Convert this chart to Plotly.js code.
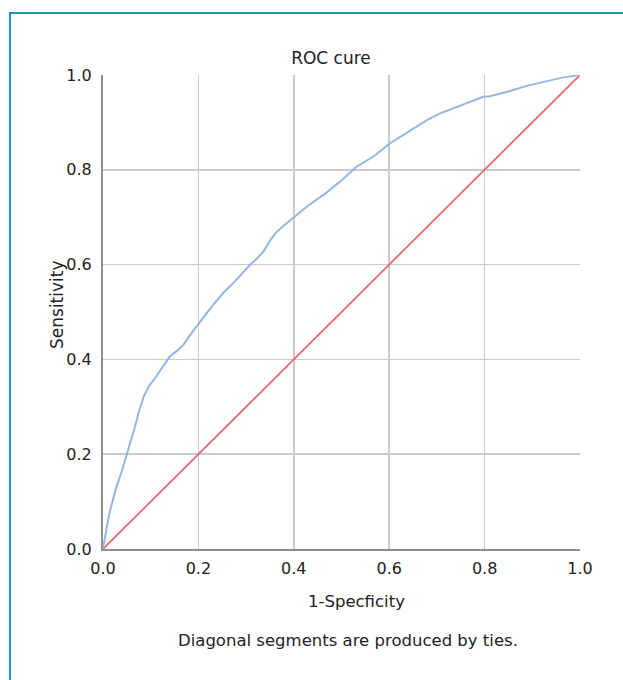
<!DOCTYPE html>
<html>
<head>
<meta charset="utf-8">
<script src="https://cdn.plot.ly/plotly-3.0.1.min.js"></script>
<style>
  html, body { margin: 0; padding: 0; background: #ffffff; overflow: hidden; }
  #wrap { position: relative; width: 623px; height: 680px; }
  #frame { position: absolute; left: 9px; top: 12px; width: 700px; height: 760px;
           border-left: 2px solid #1b97b9; border-top: 2px solid #1b97b9; pointer-events: none; z-index: 5; }
  #chart { position: absolute; left: 0; top: 0; width: 623px; height: 680px; }
</style>
</head>
<body>
<div id="wrap">
  <div id="chart"></div>
  <div id="frame"></div>
</div>
<script>
// ROC curve (1-Specificity vs Sensitivity)
var rocX = [0, 0.004, 0.008, 0.015, 0.022, 0.028, 0.039, 0.053, 0.060, 0.067, 0.076, 0.085, 0.096, 0.109, 0.124,
            0.140, 0.155, 0.168, 0.185, 0.203, 0.217, 0.231, 0.252, 0.273, 0.290, 0.308, 0.322, 0.336, 0.350, 0.362,
            0.380, 0.399, 0.427, 0.462, 0.497, 0.532, 0.567, 0.602, 0.637, 0.679, 0.707, 0.734, 0.769, 0.797, 0.811,
            0.846, 0.888, 0.930, 0.965, 1.0];
var rocY = [0, 0.026, 0.047, 0.082, 0.110, 0.130, 0.163, 0.209, 0.230, 0.258, 0.292, 0.321, 0.343, 0.360, 0.383,
            0.406, 0.418, 0.430, 0.455, 0.480, 0.497, 0.515, 0.540, 0.561, 0.580, 0.599, 0.612, 0.627, 0.650, 0.667,
            0.683, 0.698, 0.722, 0.747, 0.775, 0.807, 0.828, 0.856, 0.878, 0.905, 0.919, 0.930, 0.944, 0.954, 0.955,
            0.964, 0.977, 0.986, 0.995, 1.0];
// Reference (chance) line
var refX = [0, 1];
var refY = [0, 1];
// Ticks and texts
var tickVals = [0, 0.2, 0.4, 0.6, 0.8, 1.0];
var tickText = ['0.0', '0.2', '0.4', '0.6', '0.8', '1.0'];
var chartTitle = 'ROC cure';
var xTitle = '1-Specficity';
var yTitle = 'Sensitivity';
var footnote = 'Diagonal segments are produced by ties.';

var FONT = 'DejaVu Sans, Arial, sans-serif';
var TXT = '#222222';

var traces = [
  { x: refX, y: refY, type: 'scatter', mode: 'lines',
    line: { color: '#e8636d', width: 1.7 }, hoverinfo: 'skip', showlegend: false },
  { x: rocX, y: rocY, type: 'scatter', mode: 'lines',
    line: { color: '#93b6e2', width: 2 }, hoverinfo: 'skip', showlegend: false }
];

var axisCommon = {
  range: [0, 1], tickvals: tickVals, ticktext: tickText,
  showgrid: true, gridcolor: '#cbcbcb', gridwidth: 1.5,
  showline: true, linecolor: '#8f8f8f', linewidth: 2,
  zeroline: false, ticks: '', fixedrange: true,
  tickfont: { family: FONT, size: 16, color: TXT }
};

var layout = {
  width: 623, height: 680,
  margin: { l: 103, r: 43, t: 75, b: 131, pad: 0 },
  paper_bgcolor: '#ffffff', plot_bgcolor: '#ffffff',
  title: { text: chartTitle, font: { family: FONT, size: 17, color: TXT },
           x: 331 / 623, xanchor: 'center', xref: 'container',
           y: 1 - 58 / 680, yanchor: 'middle', yref: 'container' },
  xaxis: Object.assign({}, axisCommon, { ticklabelstandoff: 4 }),
  yaxis: Object.assign({}, axisCommon, { ticklabelstandoff: 6 }),
  annotations: [
    { text: xTitle, xref: 'paper', yref: 'paper', x: (356.5 - 103) / 477, y: (549 - 601) / 474,
      xanchor: 'center', yanchor: 'middle', showarrow: false,
      font: { family: FONT, size: 16.5, color: TXT } },
    { text: yTitle, xref: 'paper', yref: 'paper', x: (57 - 103) / 477, y: (549 - 305) / 474,
      xanchor: 'center', yanchor: 'middle', showarrow: false, textangle: -90,
      font: { family: FONT, size: 17, color: TXT } },
    { text: footnote, xref: 'paper', yref: 'paper', x: (347.5 - 103) / 477, y: (549 - 640) / 474,
      xanchor: 'center', yanchor: 'middle', showarrow: false,
      font: { family: FONT, size: 16.5, color: TXT } }
  ],
  showlegend: false
};

Plotly.newPlot('chart', traces, layout, { displayModeBar: false, staticPlot: true });
</script>
</body>
</html>
